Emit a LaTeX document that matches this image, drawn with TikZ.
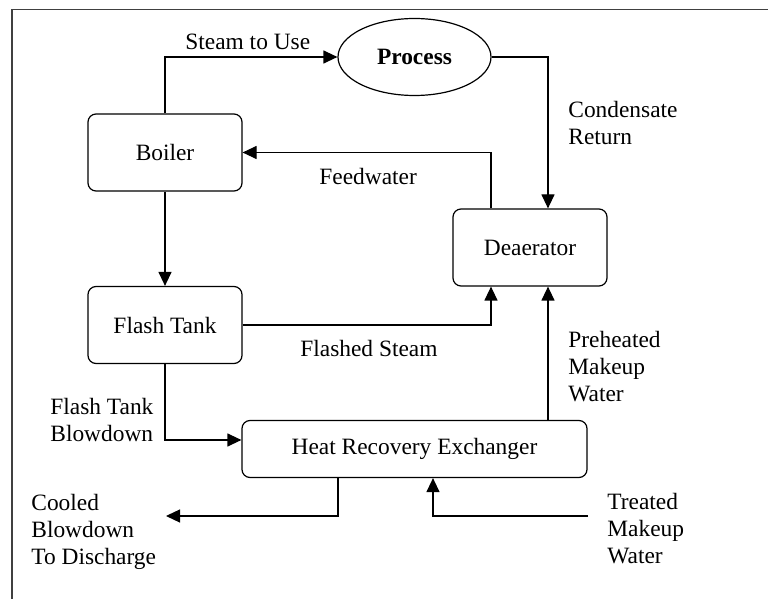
\documentclass[tikz,border=0pt]{standalone}
\usepackage{fontspec}
\setmainfont{Liberation Serif}
\usepackage{tikz}
\usetikzlibrary{positioning, arrows.meta, shapes.geometric}
\tikzset{
	every node/.append style={
		font={\fontsize{11.7}{13.5}\selectfont},
	},
	box/.append style={
		draw,
		rounded corners=4pt,
		line width=0.6pt,
		align = center,
		minimum width=77pt,
		minimum height=38.5pt,
	},
	lbl/.append style={
		align = left,
		inner sep=0pt,
		anchor=north west,
	},
	flow/.append style={
		draw,
		line width=0.6pt,
		-{Triangle[length=7pt,width=6.5pt]},
	},
	frame/.append style={
		draw=black!75,
		line width=0.8pt,
	}
}

\begin{document}
\begin{tikzpicture}[x=0.5pt, y=-0.5pt]

\useasboundingbox (0,0) rectangle (768,599);
\draw[frame] (12,599) -- (12,9.5) -- (768,9.5);

\node(proc)[draw, ellipse, line width=0.6pt, minimum width=76.5pt, minimum height=38.5pt] at (414.5,57) {\textbf{Process}};
\node(boil)[box] at (165,152.5) {Boiler};
\node(flash)[box] at (165,325) {Flash Tank};
\node(dea)[box] at (530,247.5) {Deaerator};
\node(hre)[box, minimum width=172.5pt, minimum height=28.5pt] at (414.5,449) {Heat Recovery Exchanger};

\coordinate(dis) at (166,516);
\coordinate(tmw) at (588,516);

\node(steam)[lbl] at (185,34) {Steam to Use};
\node(cond)[lbl] at (568,101) {Condensate\\Return};
\node(feed)[lbl] at (319,168) {Feedwater};
\node(flst)[lbl] at (300,340) {Flashed Steam};
\node(preh)[lbl] at (568,331) {Preheated\\Makeup\\Water};
\node(ftb)[lbl] at (50,398) {Flash Tank\\Blowdown};
\node(cool)[lbl] at (31,494) {Cooled\\Blowdown\\To Discharge};
\node(treat)[lbl] at (607,493) {Treated\\Makeup\\Water};

\draw[flow] (boil.north) |- (proc.west);
\draw[flow] (proc.east) -| ([xshift=9pt]dea.north);
\draw[flow] ([xshift=-19.5pt]dea.north) |- (boil.east);
\draw[flow] (boil) -- (flash);
\draw[flow] (flash.east) -| ([xshift=-19.5pt]dea.south);
\draw[flow] ([xshift=66.75pt]hre.north) -- ([xshift=9pt]dea.south);
\draw[flow] (flash.south) |- ([yshift=4.5pt]hre.west);
\draw[flow] ([xshift=-38.25pt]hre.south) |- (dis);
\draw[flow] (tmw) -| ([xshift=9.25pt]hre.south);

\end{tikzpicture}
\end{document}
